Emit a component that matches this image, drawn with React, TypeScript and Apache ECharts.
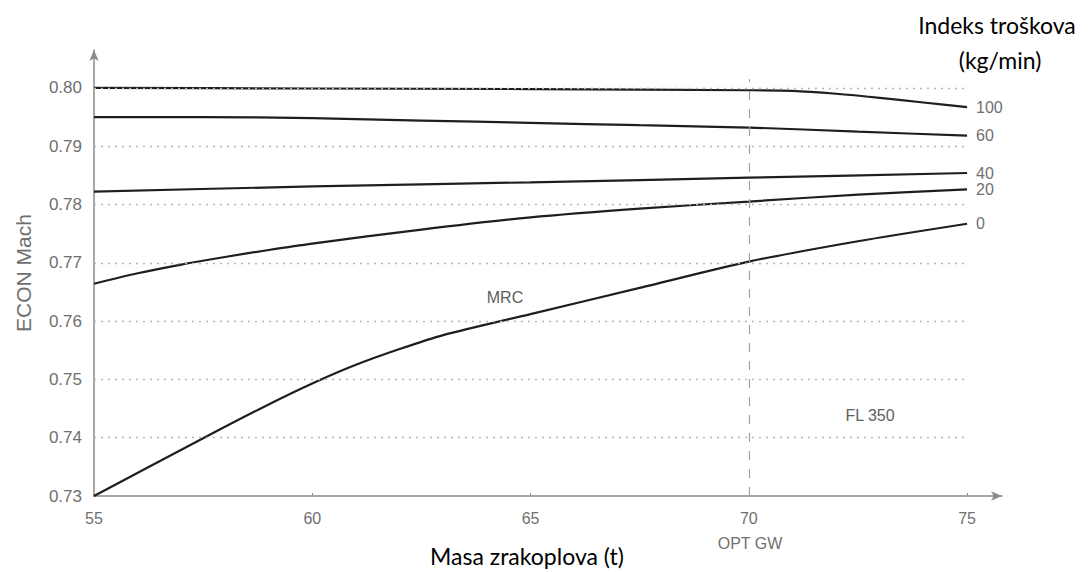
import React, { useEffect, useRef } from "react";
import * as echarts from "echarts";

// X axis: aircraft mass (t); Y axis: ECON Mach
const massTicks = [55, 60, 65, 70, 75];
const machGridValues = [0.74, 0.75, 0.76, 0.77, 0.78, 0.79, 0.8];
const optGw = 70;
const costIndexLabels = ["100", "60", "40", "20", "0"];

const ci100 = [[55, 0.8], [60, 0.7999], [65, 0.7998], [70, 0.7996], [71, 0.7995], [72, 0.799], [73, 0.7983], [74, 0.7975], [75, 0.7967]];
const ci60 = [[55, 0.795], [57.5, 0.795], [60, 0.7948], [62.5, 0.7944], [65, 0.794], [67.5, 0.7936], [70, 0.7932], [72.5, 0.7925], [75, 0.7918]];
const ci40 = [[55, 0.7822], [60, 0.7831], [65, 0.7838], [70, 0.7846], [75, 0.7854]];
const ci20 = [[55, 0.7664], [56, 0.7682], [57, 0.7697], [58, 0.771], [59, 0.7722], [60, 0.7733], [62.5, 0.7757], [65, 0.7778], [67.5, 0.7793], [70, 0.7805], [72.5, 0.7817], [75, 0.7826]];
const ci0 = [[55, 0.73], [57.5, 0.7399], [59, 0.7457], [60, 0.7493], [61, 0.7525], [62, 0.7552], [63, 0.7576], [65, 0.7612], [67.5, 0.7657], [70, 0.7702], [72.5, 0.7737], [75, 0.7767]];

const curves = [ci100, ci60, ci40, ci20, ci0];

export default function App() {
  const ref = useRef<HTMLDivElement>(null);
  useEffect(() => {
    document.body.style.margin = "0";
    const chart = echarts.init(ref.current!, undefined, { renderer: "svg" });
    const xMin = massTicks[0];
    const xMax = massTicks[massTicks.length - 1];
    const gray = "#707070";
    const font = "Liberation Sans";
    const titleFont = "Lato";

    const gridLines = machGridValues.map((v) => [
      { coord: [xMin, v] },
      { coord: [xMax, v] },
    ]);

    const series: any[] = [
      {
        type: "line",
        data: [],
        silent: true,
        z: 1,
        markLine: {
          silent: true,
          symbol: "none",
          label: { show: false },
          lineStyle: { color: "#b5b5b5", type: [2, 5], width: 1.3 },
          data: gridLines,
        },
      },
      {
        type: "line",
        data: [],
        silent: true,
        z: 1,
        markLine: {
          silent: true,
          symbol: "none",
          label: { show: false },
          lineStyle: { color: "#a0a0a0", type: [9, 9], width: 1.2 },
          data: [[{ coord: [optGw, 0.73] }, { coord: [optGw, 0.8015] }]],
        },
      },
      ...curves.map((d, i) => ({
        type: "line",
        name: costIndexLabels[i],
        data: d,
        smooth: 0.25,
        showSymbol: false,
        z: 3,
        lineStyle: { color: "#1e1e1e", width: 2.2 },
        endLabel: {
          show: true,
          formatter: costIndexLabels[i],
          color: gray,
          fontFamily: font,
          fontSize: 16,
          distance: 9,
        },
      })),
    ];

    const textStyle = (text: string, size: number, fill: string, family: string) => ({
      text,
      fontFamily: family,
      fontSize: size,
      fill,
      align: "center",
      verticalAlign: "middle",
    });

    chart.setOption({
      animation: false,
      grid: { left: 94, right: 89, top: 50, bottom: 76 },
      xAxis: {
        type: "value",
        min: 55,
        max: 75.8,
        interval: 5,
        axisLine: {
          show: true,
          lineStyle: { color: "#8a8a8a", width: 1.5 },
          symbol: ["none", "arrow"],
          symbolSize: [7, 11],
        },
        axisTick: { show: true, inside: true, length: 3, lineStyle: { color: "#8a8a8a" } },
        splitLine: { show: false },
        axisLabel: {
          color: gray,
          fontFamily: font,
          fontSize: 16,
          margin: 14,
          showMaxLabel: false,
          formatter: (v: number) => (massTicks.includes(v) ? String(v) : ""),
        },
      },
      yAxis: {
        type: "value",
        min: 0.73,
        max: 0.8065,
        interval: 0.01,
        name: "ECON Mach",
        nameLocation: "middle",
        nameRotate: 90,
        nameGap: 60,
        nameTextStyle: { color: gray, fontFamily: font, fontSize: 21 },
        axisLine: {
          show: true,
          lineStyle: { color: "#8a8a8a", width: 1.5 },
          symbol: ["none", "arrow"],
          symbolSize: [7, 11],
        },
        axisTick: { show: false },
        splitLine: { show: false },
        axisLabel: {
          color: gray,
          fontFamily: font,
          fontSize: 17,
          margin: 12,
          showMaxLabel: false,
          formatter: (v: number) => v.toFixed(2),
        },
      },
      graphic: [
        { type: "text", x: 997, y: 25, style: textStyle("Indeks troškova", 23, "#000", titleFont) },
        { type: "text", x: 1000, y: 60, style: textStyle("(kg/min)", 23, "#000", titleFont) },
        { type: "text", x: 527, y: 556, style: textStyle("Masa zrakoplova (t)", 23, "#000", titleFont) },
        { type: "text", x: 750, y: 543, style: textStyle("OPT GW", 16, gray, font) },
        { type: "text", x: 505, y: 297, style: textStyle("MRC", 16, "#606060", font) },
        { type: "text", x: 870, y: 415, style: textStyle("FL 350", 16, "#606060", font) },
      ],
      series,
    });
    return () => chart.dispose();
  }, []);
  return <div ref={ref} style={{ width: 1091, height: 572 }} />;
}
